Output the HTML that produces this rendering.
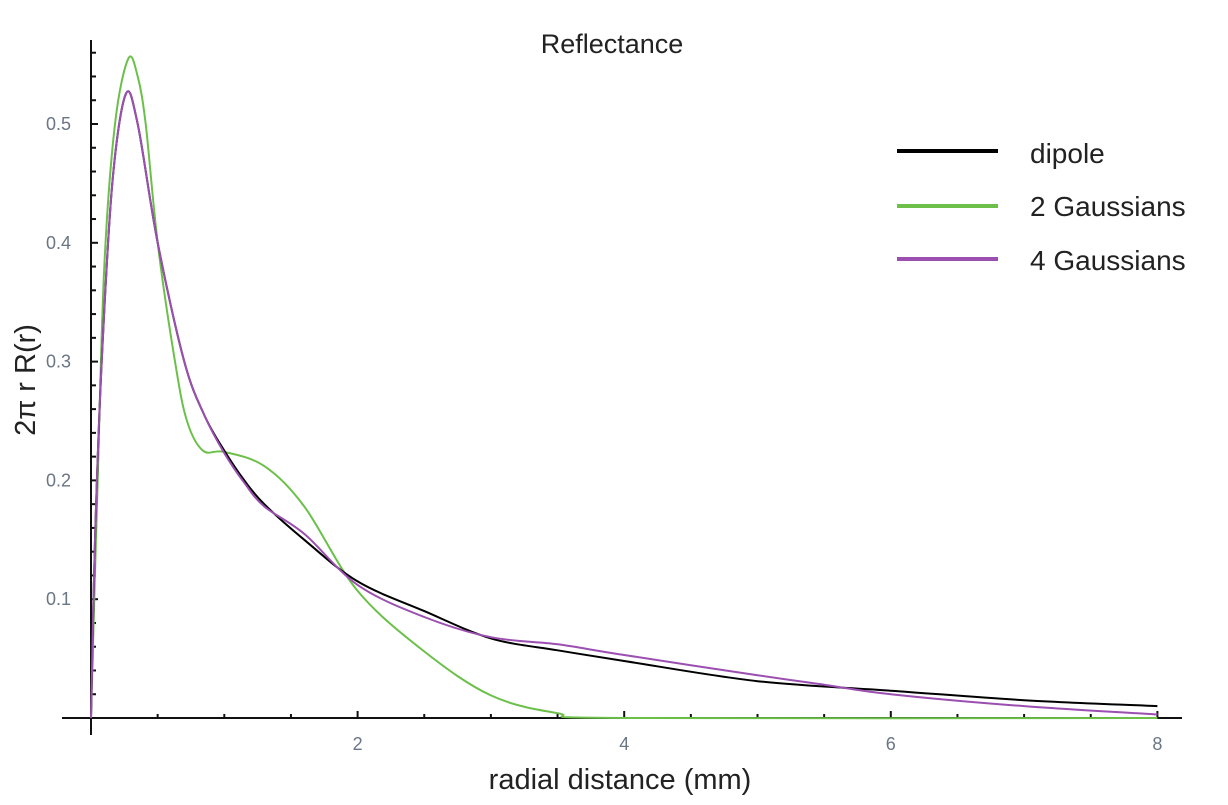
<!DOCTYPE html>
<html><head><meta charset="utf-8"><style>
body{margin:0;background:#fff;}
svg text{font-family:"Liberation Sans","DejaVu Sans",sans-serif;}
</style></head><body>
<svg id="chart" width="1228" height="800" xmlns="http://www.w3.org/2000/svg">
<text x="612" y="53" font-size="27" text-anchor="middle" fill="#222">Reflectance</text>
<text x="620" y="789" font-size="29" text-anchor="middle" fill="#222">radial distance (mm)</text>
<text transform="translate(35,380) rotate(-90)" font-size="29" text-anchor="middle" fill="#222">2π r R(r)</text>
<g id="axes"></g>
<g id="series"></g>
<g>
<line x1="897" y1="151" x2="998" y2="151" stroke="#000" stroke-width="4"/>
<text x="1030" y="163" font-size="28" fill="#222">dipole</text>
<line x1="897" y1="206" x2="998" y2="206" stroke="#6cc04a" stroke-width="4"/>
<text x="1030" y="216" font-size="28" fill="#222">2 Gaussians</text>
<line x1="897" y1="259" x2="998" y2="259" stroke="#9b4fb0" stroke-width="4"/>
<text x="1030" y="270" font-size="28" fill="#222">4 Gaussians</text>
</g>
</svg>
<script>
const xTicks=[2,4,6,8];
const yTicks=[0.1,0.2,0.3,0.4,0.5];
const dipoleX=[0,0.03,0.08,0.16,0.26,0.35,0.5,0.7,0.85,1.0,1.15,1.3,1.6,2,2.5,3,3.5,4,5,6,7,8];
const dipoleY=[0,0.15,0.3,0.45,0.525,0.5,0.4,0.3,0.255,0.225,0.2,0.18,0.15,0.115,0.09,0.067,0.057,0.048,0.031,0.023,0.015,0.010];
const g4X=[0,0.03,0.08,0.16,0.26,0.35,0.5,0.7,0.85,1.0,1.15,1.3,1.6,2,2.5,3,3.5,4,5,5.5,6,7,8];
const g4Y=[0,0.15,0.3,0.45,0.525,0.5,0.4,0.3,0.255,0.223,0.198,0.178,0.155,0.112,0.085,0.068,0.062,0.053,0.036,0.028,0.020,0.010,0.003];
const g2X=[0,0.05,0.1,0.18,0.28,0.35,0.41,0.5,0.63,0.72,0.84,1.0,1.3,1.6,2,2.5,3,3.5,4,8];
const g2Y=[0,0.2,0.38,0.5,0.555,0.54,0.5,0.4,0.3,0.25,0.225,0.224,0.212,0.178,0.107,0.056,0.019,0.004,0,0];
const X=v=>91+v*133.3, Y=v=>718-v*1188;
const NS="http://www.w3.org/2000/svg";
const ax=document.getElementById('axes'), se=document.getElementById('series');
function mk(tag,attrs,parent){const e=document.createElementNS(NS,tag);for(const k in attrs)e.setAttribute(k,attrs[k]);parent.appendChild(e);return e;}
let l=mk('line',{x1:62,y1:718,x2:1182,y2:718,stroke:'#111','stroke-width':2},ax);


l=mk('line',{x1:91,y1:40,x2:91,y2:735,stroke:'#111','stroke-width':2},ax);


for(let v=0.5;v<=8.01;v+=0.5){const t=mk('line',{x1:X(v),y1:718,x2:X(v),y2:Math.abs(v%2)<0.01?711:714,stroke:'#111','stroke-width':2},ax);

}
for(let v=0.02;v<=0.57;v+=0.02){const t=mk('line',{x1:91,y1:Y(v),x2:Math.abs((v*10)%1)<0.05||Math.abs((v*10)%1)>0.95?98:96,y2:Y(v),stroke:'#111','stroke-width':2},ax);

}
xTicks.forEach(v=>{const t=mk('text',{x:X(v),y:750,'font-size':18,'text-anchor':'middle',fill:'#6a7585'},ax);t.textContent=v;

});
yTicks.forEach(v=>{const t=mk('text',{x:71,y:Y(v)+6,'font-size':18,'text-anchor':'end',fill:'#6a7585'},ax);t.textContent=v;

});
function line(xs,ys,color,name){
const P=xs.map((x,i)=>[X(x),Y(ys[i])]);
let d='M'+P[0][0].toFixed(1)+','+P[0][1].toFixed(1);
for(let i=0;i<P.length-1;i++){const p0=P[Math.max(0,i-1)],p1=P[i],p2=P[i+1],p3=P[Math.min(P.length-1,i+2)];
const c1=[p1[0]+(p2[0]-p0[0])/6,p1[1]+(p2[1]-p0[1])/6],c2=[p2[0]-(p3[0]-p1[0])/6,p2[1]-(p3[1]-p1[1])/6];
d+='C'+c1[0].toFixed(1)+','+c1[1].toFixed(1)+' '+c2[0].toFixed(1)+','+c2[1].toFixed(1)+' '+p2[0].toFixed(1)+','+p2[1].toFixed(1);}
const p=mk('path',{d:d,fill:'none',stroke:color,'stroke-width':2,'stroke-linejoin':'round'},se);

}
line(g2X,g2Y,'#6cc04a','series-2-gaussians');
line(dipoleX,dipoleY,'#000','series-dipole');
line(g4X,g4Y,'#9b4fb0','series-4-gaussians');
</script>
</body></html>
